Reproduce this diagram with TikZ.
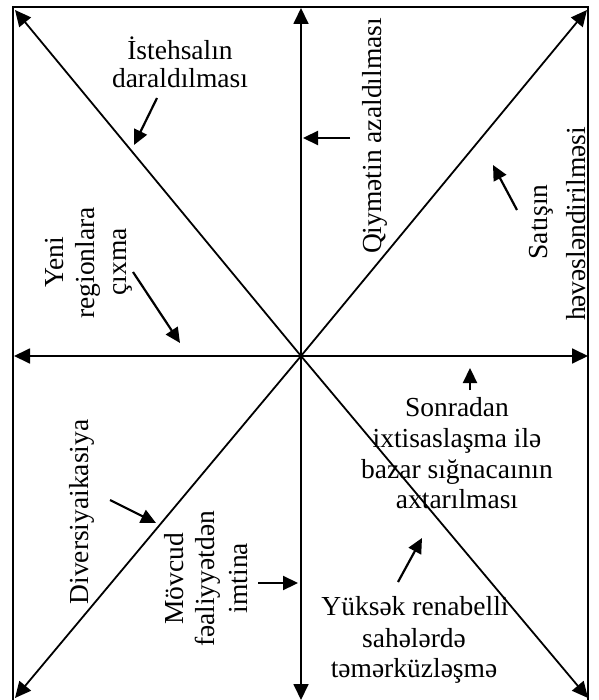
\documentclass[tikz,border=0pt]{standalone}
\usepackage{fontspec}
\setmainfont{Liberation Serif}
\usetikzlibrary{arrows.meta}
\begin{document}
\begin{tikzpicture}[x=1pt,y=-1pt,
  frame/.style={line width=1.3pt},
  axis/.style={line width=1.8pt,-{Triangle[length=16pt,width=15pt]}},
  pointer/.style={line width=2.2pt,-{Triangle[length=15pt,width=14pt]}},
  lbl/.style={font=\fontsize{27.5}{30}\selectfont,anchor=base,inner sep=0pt},
  vlbl/.style={lbl,rotate=90}]
\useasboundingbox (0,0) rectangle (598,700);
\draw[frame] (13,700) -- (13,7) -- (588,7) -- (588,700);
\coordinate (c) at (301,356);
\coordinate (n) at (301,8);
\coordinate (s) at (301,700);
\coordinate (w) at (14,356);
\coordinate (e) at (588,356);
\coordinate (nw) at (15,10);
\coordinate (ne) at (587,10);
\coordinate (sw) at (15,698);
\coordinate (se) at (588,698);
\foreach \t in {n,s,w,e,nw,ne,sw,se} \draw[axis] (c) -- (\t);

% labels
\node[lbl] (t1a) at (180,60) {İstehsalın};
\node[lbl] (t1b) at (180,88) {daraldılması};
\node[vlbl] (t2) at (381,136) {Qiymətin azaldılması};
\node[vlbl] (t3a) at (547,222) {Satışın};
\node[vlbl] (t3b) at (585,224) {həvəsləndirilməsi};
\node[vlbl] (t4a) at (63,262) {Yeni};
\node[vlbl] (t4b) at (94.5,263) {regionlara};
\node[vlbl] (t4c) at (126,262) {çıxma};
\node[vlbl] (t5) at (88,512) {Diversiyaikasiya};
\node[vlbl] (t6a) at (183,579) {Mövcud};
\node[vlbl] (t6b) at (214,579) {fəaliyyətdən};
\node[vlbl] (t6c) at (247,578) {imtina};
\node[lbl] (t7a) at (457,416) {Sonradan};
\node[lbl] (t7b) at (457,447) {ixtisaslaşma ilə};
\node[lbl] (t7c) at (457,478) {bazar sığnacaının};
\node[lbl] (t7d) at (457,508) {axtarılması};
\node[lbl] (t8a) at (415,615) {Yüksək renabelli};
\node[lbl] (t8b) at (414,647) {sahələrdə};
\node[lbl] (t8c) at (414,677) {təmərküzləşmə};

% pointer arrows
\coordinate (p1s) at (157,98);  \coordinate (p1e) at (134,145);
\coordinate (p2s) at (350,138); \coordinate (p2e) at (303,138);
\coordinate (p3s) at (517,210); \coordinate (p3e) at (493,165);
\coordinate (p4s) at (133,272); \coordinate (p4e) at (180,343);
\coordinate (p5s) at (110,500); \coordinate (p5e) at (156,523);
\coordinate (p6s) at (258,583); \coordinate (p6e) at (298,583);
\coordinate (p7s) at (470,390); \coordinate (p7e) at (470,368);
\coordinate (p8s) at (398,582); \coordinate (p8e) at (422,538);
\foreach \i in {1,...,8} \draw[pointer] (p\i s) -- (p\i e);
\end{tikzpicture}
\end{document}
